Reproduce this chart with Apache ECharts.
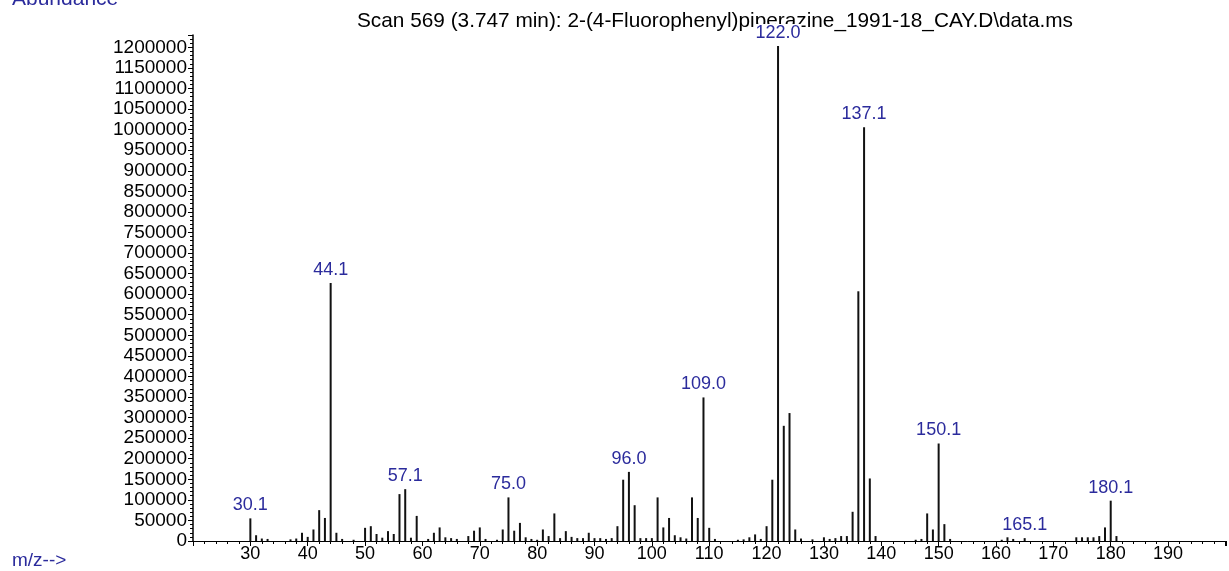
<!DOCTYPE html>
<html><head><meta charset="utf-8">
<script src="https://cdn.jsdelivr.net/npm/echarts@6/dist/echarts.min.js"></script>
<style>html,body{margin:0;padding:0;background:#fff}#c{width:1229px;height:571px}</style>
</head><body><div id="c"></div>
<script>
const titleText = 'Scan 569 (3.747 min): 2-(4-Fluorophenyl)piperazine_1991-18_CAY.D\\data.ms';
const mz = [30,31,32,33,37,38,39,40,41,42,43,44,45,46,48,50,51,52,53,54,55,56,57,58,59,61,62,63,64,65,66,68,69,70,71,73,74,75,76,77,78,79,80,81,82,83,84,85,86,87,88,89,90,91,92,93,94,95,96,97,98,99,100,101,102,103,104,105,106,107,108,109,110,111,115,116,117,118,119,120,121,122,123,124,125,126,128,130,131,132,133,134,135,136,137,138,139,146,147,148,149,150,151,152,161,162,163,165,174,175,176,177,178,179,180,181];
const abundance = [55000,14000,6000,5000,4000,6000,20000,10000,28000,75000,56000,627000,20000,5000,3000,32000,36000,17000,8000,24000,17000,114000,126000,8000,61000,5000,20000,33000,9000,7000,5000,12000,25000,33000,5000,3000,28000,106000,25000,44000,9000,5000,3000,28000,12000,67000,7000,24000,10000,7000,7000,20000,7000,7000,5000,7000,36000,149000,168000,87000,7000,7000,7000,106000,33000,56000,14000,9000,6000,106000,56000,349000,32000,5000,3000,4000,9000,16000,5000,36000,149000,1203000,280000,311000,28000,6000,4000,9000,5000,7000,12000,12000,71000,607000,1006000,152000,12000,3000,5000,67000,28000,237000,41000,5000,3000,9000,5000,7000,9000,9000,9000,9000,12000,33000,98000,12000];
const labelMz = [30,44,57,75,96,109,122,137,150,165,180];
const labelText = ['30.1','44.1','57.1','75.0','96.0','109.0','122.0','137.1','150.1','165.1','180.1'];

const FONT = '"Liberation Sans", Arial, sans-serif';
const BLUE = '#2b2b9c';
const data = mz.map((m, i) => {
  const k = labelMz.indexOf(m);
  const item = { value: [m, abundance[i]] };
  if (k >= 0) {
    item.label = { show: true, position: 'top', distance: 4, formatter: labelText[k],
      color: BLUE, fontSize: 18, fontFamily: FONT, backgroundColor: '#fff', padding: [0, 1, 0, 1] };
  }
  return item;
});

const chart = echarts.init(document.getElementById('c'), null, { renderer: 'canvas' });
chart.setOption({
  animation: false,
  backgroundColor: '#fff',
  grid: { left: 193, right: 0, top: 35, bottom: 30, containLabel: false },
  xAxis: {
    type: 'value', min: 20, max: 200.1, interval: 10,
    axisLine: { show: true, onZero: false, lineStyle: { color: '#000', width: 1 } },
    axisTick: { show: true, length: 5, lineStyle: { color: '#000' } },
    minorTick: { show: true, splitNumber: 5, length: 3, lineStyle: { color: '#000' } },
    splitLine: { show: false },
    axisLabel: { color: '#000', fontSize: 18, fontFamily: FONT, margin: 4,
      formatter: v => (v >= 30 && v <= 190 && v % 10 === 0) ? String(v) : '' }
  },
  yAxis: {
    type: 'value', min: 0, max: 1230000, interval: 50000,
    axisLine: { show: true, lineStyle: { color: '#000', width: 1.5 } },
    axisTick: { show: true, length: 5, lineStyle: { color: '#000' } },
    minorTick: { show: true, splitNumber: 5, length: 3, lineStyle: { color: '#000' } },
    splitLine: { show: false },
    axisLabel: { color: '#000', fontSize: 19, fontFamily: FONT, margin: 6, showMaxLabel: false,
      formatter: v => (v % 50000 === 0 && v <= 1200000) ? String(v) : '' }
  },
  series: [{
    type: 'bar', barWidth: 2, data: data,
    itemStyle: { color: '#111' }, z: 3,
    label: { show: false }
  }],
  graphic: [
    { type: 'text', left: 357, top: 11, z: 1, style: { text: titleText, font: '20.8px ' + FONT, fill: '#000' } },
    { type: 'text', left: 12, top: -11, style: { text: 'Abundance', font: '21px ' + FONT, fill: BLUE } },
    { type: 'text', left: 12, top: 551, style: { text: 'm/z-->', font: '19px ' + FONT, fill: BLUE } }
  ]
});
</script></body></html>
